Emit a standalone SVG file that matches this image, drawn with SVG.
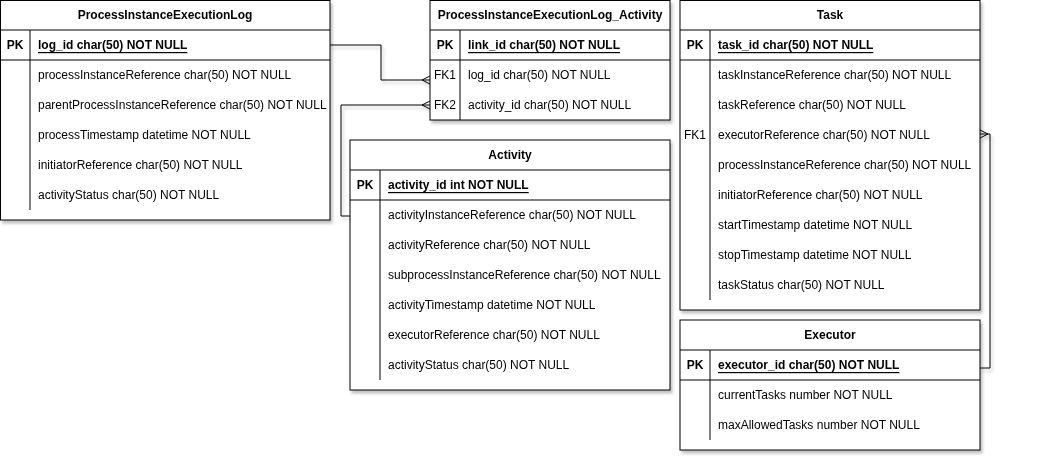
<svg xmlns="http://www.w3.org/2000/svg" width="1042" height="462" viewBox="0 0 1042 462">
<style>
.box{fill:#fff;stroke:#000;stroke-width:1}
.ln{stroke:#000;stroke-width:1;fill:none}
text{font-family:"Liberation Sans",Arial,sans-serif;font-size:12px;fill:#000;dominant-baseline:central}
.t{font-weight:bold;text-anchor:middle}
.k{font-weight:bold;text-anchor:middle}
.f{text-anchor:middle}
.pk{font-weight:bold;text-decoration:underline}
.c{stroke:#000;stroke-width:1;fill:none}
</style>
<defs>
<filter id="sh" x="-5%" y="-5%" width="115%" height="115%">
<feDropShadow dx="2" dy="3" stdDeviation="1.5" flood-color="#000" flood-opacity="0.25"/>
</filter>
<marker id="many" viewBox="-10 -6 11 12" refX="0" refY="0" markerWidth="11" markerHeight="12" orient="auto" markerUnits="userSpaceOnUse">
<path d="M0,-4 L-8,0 L0,4" fill="none" stroke="#000" stroke-width="1"/>
</marker>
</defs>
<rect width="1042" height="462" fill="#fff"/>

<g id="connectors" filter="url(#sh)">
<path class="c" d="M330,45 H381 V80 H430" marker-end="url(#many)"/>
<path class="c" d="M350,216 H341 V105 H430" marker-end="url(#many)"/>
<path class="c" d="M980,368 H990 V134 H980" marker-end="url(#many)"/>
</g>

<g id="ProcessInstanceExecutionLog" filter="url(#sh)">
<rect class="box" x="0.5" y="0.5" width="329.5" height="219.5"/>
<line class="ln" x1="0.5" y1="30" x2="330" y2="30"/>
<line class="ln" x1="0.5" y1="60" x2="330" y2="60"/>
<line class="ln" x1="30" y1="30" x2="30" y2="210"/>
<text class="t" x="165" y="15">ProcessInstanceExecutionLog</text>
<text class="k" x="15" y="45">PK</text>
<text class="pk" x="38" y="45">log_id char(50) NOT NULL</text>
<text x="38" y="75">processInstanceReference char(50) NOT NULL</text>
<text x="38" y="105">parentProcessInstanceReference char(50) NOT NULL</text>
<text x="38" y="135">processTimestamp datetime NOT NULL</text>
<text x="38" y="165">initiatorReference char(50) NOT NULL</text>
<text x="38" y="195">activityStatus char(50) NOT NULL</text>
</g>

<g id="ProcessInstanceExecutionLog_Activity" filter="url(#sh)">
<rect class="box" x="430" y="0.5" width="240" height="119.5"/>
<line class="ln" x1="430" y1="30" x2="670" y2="30"/>
<line class="ln" x1="430" y1="60" x2="670" y2="60"/>
<line class="ln" x1="460" y1="30" x2="460" y2="120"/>
<text class="t" x="550" y="15">ProcessInstanceExecutionLog_Activity</text>
<text class="k" x="445" y="45">PK</text>
<text class="pk" x="468" y="45">link_id char(50) NOT NULL</text>
<text class="f" x="445" y="75">FK1</text>
<text x="468" y="75">log_id char(50) NOT NULL</text>
<text class="f" x="445" y="105">FK2</text>
<text x="468" y="105">activity_id char(50) NOT NULL</text>
</g>

<g id="Activity" filter="url(#sh)">
<rect class="box" x="350" y="140" width="320" height="250"/>
<line class="ln" x1="350" y1="170" x2="670" y2="170"/>
<line class="ln" x1="350" y1="200" x2="670" y2="200"/>
<line class="ln" x1="380" y1="170" x2="380" y2="380"/>
<text class="t" x="510" y="155">Activity</text>
<text class="k" x="365" y="185">PK</text>
<text class="pk" x="388" y="185">activity_id int NOT NULL</text>
<text x="388" y="215">activityInstanceReference char(50) NOT NULL</text>
<text x="388" y="245">activityReference char(50) NOT NULL</text>
<text x="388" y="275">subprocessInstanceReference char(50) NOT NULL</text>
<text x="388" y="305">activityTimestamp datetime NOT NULL</text>
<text x="388" y="335">executorReference char(50) NOT NULL</text>
<text x="388" y="365">activityStatus char(50) NOT NULL</text>
</g>

<g id="Task" filter="url(#sh)">
<rect class="box" x="680" y="0.5" width="300" height="309.5"/>
<line class="ln" x1="680" y1="30" x2="980" y2="30"/>
<line class="ln" x1="680" y1="60" x2="980" y2="60"/>
<line class="ln" x1="710" y1="30" x2="710" y2="300"/>
<text class="t" x="830" y="15">Task</text>
<text class="k" x="695" y="45">PK</text>
<text class="pk" x="718" y="45">task_id char(50) NOT NULL</text>
<text x="718" y="75">taskInstanceReference char(50) NOT NULL</text>
<text x="718" y="105">taskReference char(50) NOT NULL</text>
<text class="f" x="695" y="135">FK1</text>
<text x="718" y="135">executorReference char(50) NOT NULL</text>
<text x="718" y="165">processInstanceReference char(50) NOT NULL</text>
<text x="718" y="195">initiatorReference char(50) NOT NULL</text>
<text x="718" y="225">startTimestamp datetime NOT NULL</text>
<text x="718" y="255">stopTimestamp datetime NOT NULL</text>
<text x="718" y="285">taskStatus char(50) NOT NULL</text>
</g>

<g id="Executor" filter="url(#sh)">
<rect class="box" x="680" y="320" width="300" height="130"/>
<line class="ln" x1="680" y1="350" x2="980" y2="350"/>
<line class="ln" x1="680" y1="380" x2="980" y2="380"/>
<line class="ln" x1="710" y1="350" x2="710" y2="440"/>
<text class="t" x="830" y="335">Executor</text>
<text class="k" x="695" y="365">PK</text>
<text class="pk" x="718" y="365">executor_id char(50) NOT NULL</text>
<text x="718" y="395">currentTasks number NOT NULL</text>
<text x="718" y="425">maxAllowedTasks number NOT NULL</text>
</g>
</svg>
